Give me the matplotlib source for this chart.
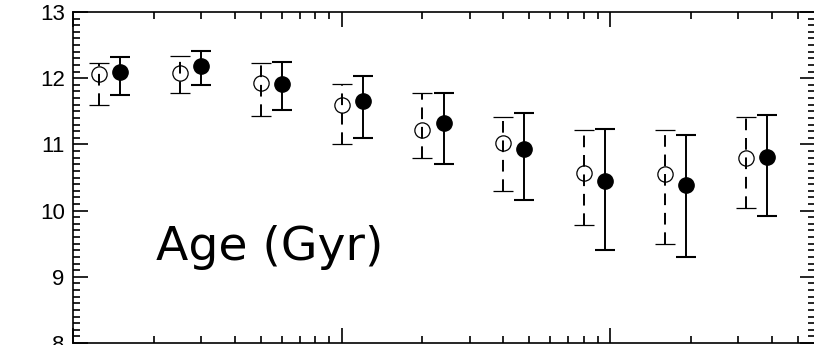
import numpy as np
import matplotlib
matplotlib.use("Agg")
import matplotlib.pyplot as plt
from matplotlib.ticker import MultipleLocator, LogLocator, NullFormatter

# bin positions (log x) for the two samples
x_open = [1.25, 2.5, 5, 10, 20, 40, 80, 160, 320]
x_filled = [1.5, 3, 6, 12, 24, 48, 96, 192, 384]

# open symbols: age, lower and upper end of error bar
age_open = [12.07, 12.08, 11.93, 11.60, 11.22, 11.02, 10.57, 10.56, 10.79]
lo_open = [11.60, 11.78, 11.43, 11.00, 10.80, 10.30, 9.79, 9.49, 10.04]
hi_open = [12.23, 12.34, 12.23, 11.91, 11.77, 11.42, 11.22, 11.22, 11.42]

# filled symbols
age_filled = [12.10, 12.19, 11.91, 11.66, 11.33, 10.93, 10.44, 10.39, 10.81]
lo_filled = [11.75, 11.90, 11.52, 11.10, 10.71, 10.16, 9.41, 9.30, 9.92]
hi_filled = [12.32, 12.41, 12.25, 12.03, 11.77, 11.48, 11.24, 11.14, 11.45]


def asym_err(y, lo, hi):
    y, lo, hi = np.asarray(y), np.asarray(lo), np.asarray(hi)
    return np.vstack([y - lo, hi - y])


fig = plt.figure(figsize=(8.14, 3.45), dpi=100)
ax = fig.add_axes([73 / 814, 2 / 345, 742 / 814, 331 / 345])

eb = ax.errorbar(x_open, age_open, yerr=asym_err(age_open, lo_open, hi_open),
                 fmt="o", ms=11, mfc="none", mec="black", mew=0.9,
                 ecolor="black", elinewidth=1.4, capsize=7, capthick=1.5)
eb[2][0].set_linestyle((0, (6, 4)))

ax.errorbar(x_filled, age_filled, yerr=asym_err(age_filled, lo_filled, hi_filled),
            fmt="o", ms=11, mfc="black", mec="black",
            ecolor="black", elinewidth=1.4, capsize=7, capthick=1.5)

ax.set_xscale("log")
ax.set_xlim(1, 580)
ax.set_ylim(8, 13)

ax.xaxis.set_major_locator(LogLocator(base=10))
ax.xaxis.set_minor_locator(LogLocator(base=10, subs=np.arange(2, 10)))
ax.xaxis.set_minor_formatter(NullFormatter())
ax.yaxis.set_major_locator(MultipleLocator(1))
ax.yaxis.set_minor_locator(MultipleLocator(0.1))

ax.tick_params(which="both", direction="in", top=True, right=True,
               labelbottom=False, width=1.2, labelsize=16, pad=6)
ax.tick_params(which="major", length=11)
ax.tick_params(which="minor", length=5)
for lab in ax.get_yticklabels():
    lab.set_fontfamily("Liberation Sans")

for sp in ax.spines.values():
    sp.set_linewidth(1.2)

ax.text(0.265, 0.29, "Age (Gyr)", transform=ax.transAxes, fontsize=34,
        ha="center", va="center")

fig.savefig("out.png", dpi=100)
